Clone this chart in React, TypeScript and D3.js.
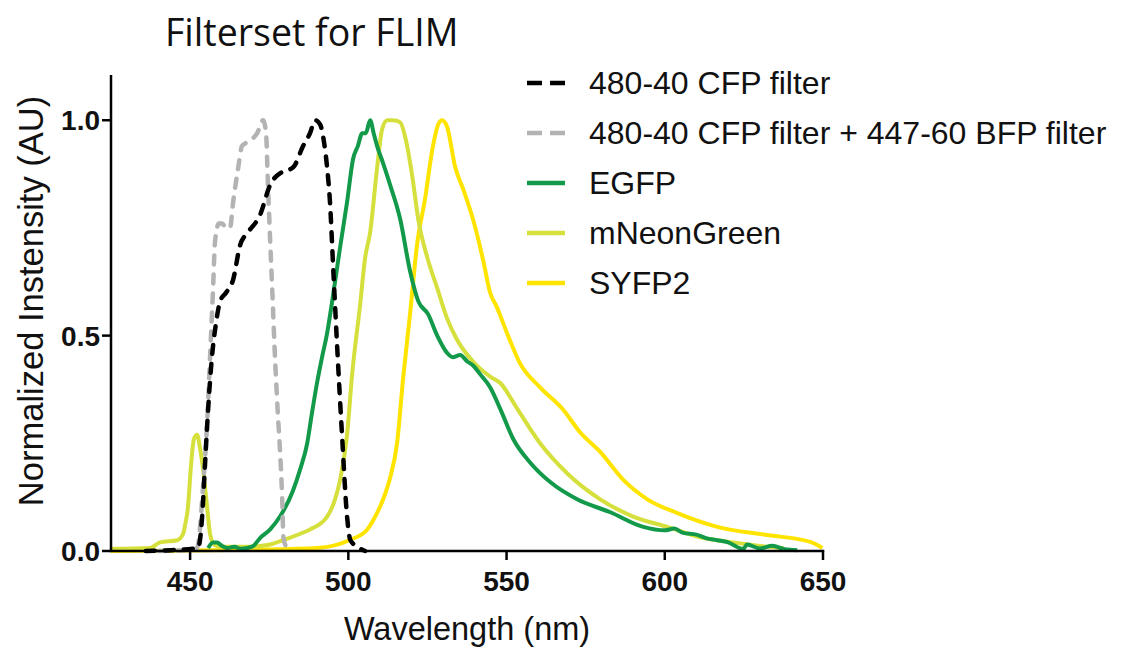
import React from "react";
import * as d3 from "d3";

const title = "Filterset for FLIM";
const xLabel = "Wavelength (nm)";
const yLabel = "Normalized Instensity (AU)";
const xTicks = [450, 500, 550, 600, 650];
const yTicks = [0, 0.5, 1.0];

const seriesNames = [
  "480-40 CFP filter",
  "480-40 CFP filter + 447-60 BFP filter",
  "EGFP",
  "mNeonGreen",
  "SYFP2",
];
const seriesColors = ["#000000", "#b3b3b3", "#129a4a", "#d5e03c", "#ffe400"];
const seriesDashed = [true, true, false, false, false];

const cfpX = [436, 444, 452.5, 453.8, 454.7, 455.7, 456.9, 458.2, 459.5, 461.4, 463.6, 465.8, 468.3, 472.1, 475.3, 479.1, 482.5, 485.7, 487.9, 489.5, 491.1, 492.3, 493.3, 494.2, 495.2, 496.5, 498.0, 499.6, 500.6, 502.8, 505.3];
const cfpY = [0, 0.002, 0.007, 0.08, 0.2, 0.33, 0.45, 0.53, 0.58, 0.6, 0.63, 0.71, 0.74, 0.78, 0.85, 0.88, 0.89, 0.94, 0.97, 1.0, 0.99, 0.95, 0.89, 0.81, 0.66, 0.47, 0.27, 0.08, 0.026, 0.01, 0];

const bfpX = [440, 448, 452.2, 454.1, 455.4, 456.3, 457.2, 457.9, 459.1, 460.1, 461.4, 462.6, 463.6, 465.2, 466.4, 468.3, 471.2, 473.1, 474.0, 474.6, 475.3, 476.1, 476.7, 477.5, 479.1, 479.5, 480.6, 481.6];
const bfpY = [0, 0.002, 0.007, 0.15, 0.3, 0.45, 0.6, 0.72, 0.76, 0.76, 0.75, 0.75, 0.81, 0.89, 0.94, 0.95, 0.97, 1.0, 0.97, 0.85, 0.72, 0.58, 0.47, 0.35, 0.12, 0.03, 0.007, 0];

const egfpX = [455.7, 457.2, 458.5, 460, 461.7, 464, 466, 468.0, 470, 472.1, 475.3, 478.4, 482.5, 484.8, 487.0, 488.5, 490.1, 491.7, 493.3, 494.9, 497.4, 499.6, 501.5, 503, 504.4, 505.5, 506.9, 508, 509.1, 511, 513.2, 516.4, 519.5, 522.1, 525.2, 528.1, 531.2, 533, 535.3, 537.6, 539.5, 541.7, 544.8, 548.0, 552.1, 557.5, 563.8, 572.3, 582.8, 593.2, 600, 603, 605.8, 610, 613, 616.6, 620, 624.8, 626, 630, 634, 638, 641.9];
const egfpY = [0.007, 0.02, 0.02, 0.012, 0.007, 0.01, 0.005, 0.007, 0.012, 0.03, 0.05, 0.08, 0.14, 0.19, 0.25, 0.32, 0.39, 0.45, 0.506, 0.58, 0.705, 0.81, 0.91, 0.94, 0.97, 0.97, 1.0, 0.97, 0.94, 0.9, 0.85, 0.77, 0.65, 0.58, 0.55, 0.5, 0.46, 0.45, 0.455, 0.44, 0.43, 0.41, 0.38, 0.33, 0.26, 0.205, 0.16, 0.12, 0.09, 0.056, 0.048, 0.052, 0.042, 0.038, 0.03, 0.025, 0.02, 0.005, 0.015, 0.006, 0.012, 0.004, 0.002];

const mngX = [425, 437.3, 440.5, 445.9, 447.8, 448.4, 449.3, 450.3, 451.2, 452.2, 453.1, 454.1, 455.4, 456.3, 457.6, 459.5, 468.9, 475.3, 479.4, 484.8, 487.9, 493.3, 495.8, 497.4, 499.6, 501.2, 503.7, 505.3, 506.9, 509.1, 510.7, 512.3, 514.2, 516.4, 518.0, 520.2, 522.1, 525.0, 528.1, 531.2, 534.4, 539.4, 544.8, 548.0, 553.4, 560.6, 569.2, 579.6, 590.0, 600.8, 611.2, 621.6, 632.4, 637.5];
const mngY = [0.005, 0.007, 0.02, 0.025, 0.04, 0.06, 0.1, 0.2, 0.26, 0.27, 0.24, 0.19, 0.1, 0.04, 0.015, 0.01, 0.01, 0.015, 0.025, 0.04, 0.05, 0.08, 0.12, 0.165, 0.27, 0.41, 0.57, 0.68, 0.74, 0.89, 0.98, 1.0, 1.0, 0.995, 0.96, 0.87, 0.77, 0.68, 0.61, 0.54, 0.49, 0.44, 0.405, 0.39, 0.33, 0.25, 0.18, 0.12, 0.08, 0.056, 0.032, 0.02, 0.01, 0.007];

const syfpX = [425, 450, 468.9, 490.1, 500.6, 506.0, 508.5, 511.0, 513.2, 515.4, 517.3, 519.5, 521.7, 524.3, 526.5, 528.4, 529.6, 531.2, 533.8, 536.3, 539.4, 542.6, 544.8, 547.0, 550.2, 554.3, 560.6, 567.9, 573.3, 579.6, 586.9, 594.5, 604.0, 616.6, 632.4, 646.0, 649.8];
const syfpY = [0, 0.001, 0.003, 0.007, 0.026, 0.05, 0.08, 0.12, 0.17, 0.25, 0.4, 0.55, 0.71, 0.82, 0.93, 0.99, 1.0, 0.985, 0.89, 0.84, 0.77, 0.675, 0.6, 0.565, 0.505, 0.435, 0.38, 0.328, 0.275, 0.23, 0.165, 0.12, 0.088, 0.056, 0.037, 0.021, 0.007];

const seriesXs = [cfpX, bfpX, egfpX, mngX, syfpX];
const seriesYs = [cfpY, bfpY, egfpY, mngY, syfpY];

export default function App() {
  const W = 1122;
  const H = 648;
  const x = d3.scaleLinear().domain([425, 650]).range([111, 823]);
  const y = d3.scaleLinear().domain([0, 1.105]).range([551, 75]);
  const line = d3
    .line<[number, number]>()
    .x((d) => x(d[0]))
    .y((d) => y(d[1]))
    .curve(d3.curveMonotoneX);

  const font = "'Liberation Sans', Arial, sans-serif";
  const order = [4, 3, 2, 1, 0];

  return (
    <svg
      width={W}
      height={H}
      style={{ position: "absolute", left: 0, top: 0, background: "#fff" }}
    >
      <rect width={W} height={H} fill="#fff" />
      <text x={165} y={46} fontFamily="'Open Sans', sans-serif" fontSize={37.5} fill="#111">
        {title}
      </text>

      {order.map((i) => {
        const pts: [number, number][] = seriesXs[i].map((v, k) => [v, seriesYs[i][k]]);
        return (
          <path
            key={i}
            d={line(pts) || ""}
            fill="none"
            stroke={seriesColors[i]}
            strokeWidth={seriesDashed[i] ? 4.5 : 4}
            strokeDasharray={seriesDashed[i] ? "9 10" : undefined}
            strokeLinecap={seriesDashed[i] ? "round" : "butt"}
            strokeLinejoin="round"
          />
        );
      })}

      {/* axes */}
      <line x1={x(425)} x2={x(425)} y1={y(1.105)} y2={y(0)} stroke="#000" strokeWidth={2.5} />
      <line x1={x(425) - 1.25} x2={x(650) + 1.25} y1={y(0)} y2={y(0)} stroke="#000" strokeWidth={2.5} />
      {xTicks.map((t) => (
        <g key={t}>
          <line x1={x(t)} x2={x(t)} y1={y(0)} y2={y(0) + 9} stroke="#000" strokeWidth={2.5} />
          <text
            x={x(t)}
            y={y(0) + 40}
            textAnchor="middle"
            fontFamily={font}
            fontWeight="bold"
            fontSize={28}
            fill="#111"
          >
            {t}
          </text>
        </g>
      ))}
      {yTicks.map((t) => (
        <g key={t}>
          <line x1={x(425) - 9} x2={x(425)} y1={y(t)} y2={y(t)} stroke="#000" strokeWidth={2.5} />
          <text
            x={x(425) - 11}
            y={y(t) + 10}
            textAnchor="end"
            fontFamily={font}
            fontWeight="bold"
            fontSize={28}
            fill="#111"
          >
            {t.toFixed(1)}
          </text>
        </g>
      ))}
      <text x={467} y={640} textAnchor="middle" fontFamily={font} fontSize={32.5} fill="#111">
        {xLabel}
      </text>
      <text
        transform={`translate(43,301) rotate(-90)`}
        textAnchor="middle"
        fontFamily={font}
        fontSize={34.5}
        fill="#111"
      >
        {yLabel}
      </text>

      {/* legend */}
      {seriesNames.map((n, i) => {
        const ly = 83 + i * 50;
        return (
          <g key={n}>
            {seriesDashed[i] ? (
              <line
                x1={527}
                x2={565}
                y1={ly}
                y2={ly}
                stroke={seriesColors[i]}
                strokeWidth={4.5}
                strokeDasharray="15 8"
              />
            ) : (
              <line x1={527} x2={565} y1={ly} y2={ly} stroke={seriesColors[i]} strokeWidth={4.5} />
            )}
            <text x={589} y={ly + 11} fontFamily={font} fontSize={32} fill="#111">
              {n}
            </text>
          </g>
        );
      })}
    </svg>
  );
}
